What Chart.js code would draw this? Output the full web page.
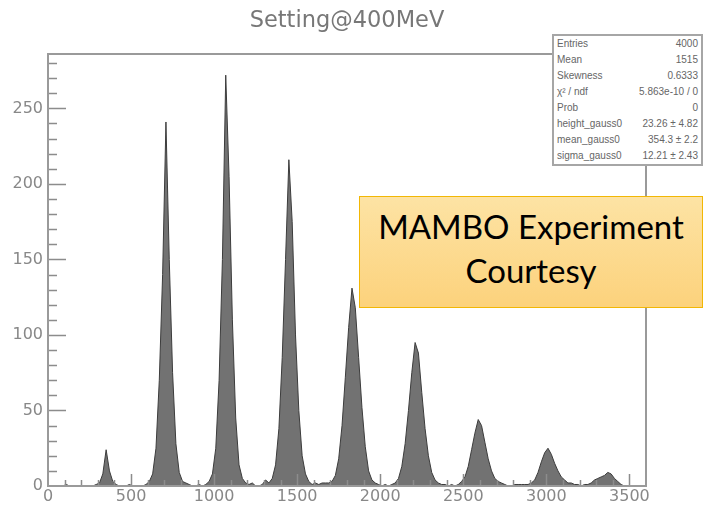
<!DOCTYPE html>
<html>
<head>
<meta charset="utf-8">
<script src="https://cdn.jsdelivr.net/npm/chart.js@4.4.0/dist/chart.umd.min.js"></script>
<style>
  body { margin: 0; background: #fff; }
  #wrap { position: relative; width: 705px; height: 507px; }
  #stats {
    position: absolute; left: 552px; top: 34px; width: 147px;
    border: 2px solid #a6a6a6; background: #fff;
    font: 10px "Liberation Sans", sans-serif; color: #666;
  }
  #stats div { display: flex; justify-content: space-between; height: 16px; line-height: 16px; padding: 0 3px; }
  #note {
    position: absolute; left: 359px; top: 196px; width: 342px; height: 103px;
    padding-top: 7px;
    border: 1px solid #f2b705;
    background: linear-gradient(#fde3a4, #fcd27c);
    font: 33px Lato, sans-serif; color: #000;
    text-align: center; line-height: 44px;
  }
</style>
</head>
<body>
<div id="wrap">
  <canvas id="graph" width="705" height="507"></canvas>
  <div id="stats"></div>
  <div id="note">MAMBO Experiment<br>Courtesy</div>
</div>
<script>
const titleText = 'Setting@400MeV';
const binWidth = 20;
const xMin = 0;
const xMax = 3600;
const yMax = 286;
const xTickValues = [0, 500, 1000, 1500, 2000, 2500, 3000, 3500];
const yTickValues = [0, 50, 100, 150, 200, 250];

// counts per 20-wide bin, 0..3600
const counts = [
  0, 0, 0, 0, 0, 1, 0, 0, 0, 0, 0, 0, 0, 0, 1, 2, 8, 24, 10, 3,
  1, 0, 0, 0, 1, 0, 0, 0, 0, 1, 3, 8, 25, 70, 140, 241, 150, 75, 28, 9,
  3, 2, 1, 0, 0, 1, 0, 1, 3, 8, 25, 70, 150, 272, 205, 110, 45, 14, 5, 2,
  1, 2, 0, 0, 1, 4, 2, 5, 14, 38, 85, 150, 216, 175, 100, 50, 20, 8, 3, 1,
  2, 1, 2, 2, 2, 3, 7, 18, 40, 72, 105, 131, 118, 85, 52, 26, 10, 4, 2, 1,
  0, 1, 0, 1, 2, 5, 13, 28, 50, 75, 95, 88, 62, 38, 20, 9, 4, 2, 1, 1,
  0, 1, 0, 1, 3, 6, 13, 24, 35, 44, 40, 29, 18, 10, 5, 3, 2, 1, 0, 0,
  1, 1, 1, 1, 1, 2, 4, 9, 16, 22, 25, 21, 15, 10, 6, 4, 2, 2, 1, 1,
  0, 1, 1, 2, 4, 5, 6, 7, 9, 8, 5, 3, 1, 0, 0, 0, 0, 0, 0, 0
];

const statLabels = ['Entries', 'Mean', 'Skewness', 'χ² / ndf', 'Prob', 'height_gauss0', 'mean_gauss0', 'sigma_gauss0'];
const statValues = ['4000', '1515', '0.6333', '5.863e-10 / 0', '0', '23.26 ± 4.82', '354.3 ± 2.2', '12.21 ± 2.43'];

const statsBox = document.getElementById('stats');
statLabels.forEach((label, i) => {
  const row = document.createElement('div');
  row.innerHTML = '<span>' + label + '</span><span>' + statValues[i] + '</span>';
  statsBox.appendChild(row);
});

const frame = {
  id: 'frame',
  afterDatasetsDraw(chart) {
    const ctx = chart.ctx;
    const a = chart.chartArea;
    const xs = chart.scales.x;
    const ys = chart.scales.y;
    ctx.save();
    ctx.strokeStyle = '#8c8c8c';
    ctx.lineWidth = 1.5;
    ctx.beginPath();
    for (let v = 10; v < yMax; v += 10) {
      const py = Math.round(ys.getPixelForValue(v)) + 0.5;
      const len = v % 50 === 0 ? 18 : 9;
      ctx.moveTo(a.left, py);
      ctx.lineTo(a.left + len, py);
    }
    for (let v = 100; v < xMax; v += 100) {
      const px = Math.round(xs.getPixelForValue(v)) + 0.5;
      const len = v % 500 === 0 ? 12 : 6;
      ctx.moveTo(px, a.bottom);
      ctx.lineTo(px, a.bottom - len);
    }
    ctx.stroke();
    ctx.strokeStyle = '#9a9a9a';
    ctx.lineWidth = 2;
    ctx.strokeRect(a.left, a.top, a.right - a.left, a.bottom - a.top);
    ctx.fillStyle = '#777';
    ctx.font = '22.5px "DejaVu Sans"';
    ctx.textAlign = 'center';
    ctx.textBaseline = 'alphabetic';
    ctx.fillText(titleText, (a.left + a.right) / 2, 27);
    ctx.restore();
  }
};

const tickFont = { family: 'DejaVu Sans', size: 16 };

new Chart(document.getElementById('graph'), {
  type: 'line',
  data: {
    datasets: [{
      data: counts.map((c, i) => ({ x: xMin + (i + 0.5) * binWidth, y: c })),
      fill: 'origin',
      backgroundColor: '#727272',
      borderColor: '#3c3c3c',
      borderWidth: 1,
      pointRadius: 0,
      tension: 0
    }]
  },
  options: {
    responsive: false,
    animation: false,
    devicePixelRatio: 1,
    layout: { padding: { top: 54, right: 59, left: 0, bottom: 0 } },
    plugins: { legend: { display: false }, tooltip: { enabled: false }, title: { display: false } },
    scales: {
      x: {
        type: 'linear', min: xMin, max: xMax,
        grid: { display: false, drawTicks: false },
        border: { display: false },
        afterBuildTicks: s => { s.ticks = xTickValues.map(v => ({ value: v })); },
        afterFit: s => { s.height = 21; },
        ticks: { color: '#888', font: tickFont, padding: 1, maxRotation: 0, autoSkip: false, callback: v => String(v) }
      },
      y: {
        min: 0, max: yMax,
        grid: { display: false, drawTicks: false },
        border: { display: false },
        afterBuildTicks: s => { s.ticks = yTickValues.map(v => ({ value: v })); },
        afterFit: s => { s.width = 48; },
        ticks: { color: '#888', font: tickFont, padding: 5, autoSkip: false, callback: v => String(v) }
      }
    }
  },
  plugins: [frame]
});
</script>
</body>
</html>
